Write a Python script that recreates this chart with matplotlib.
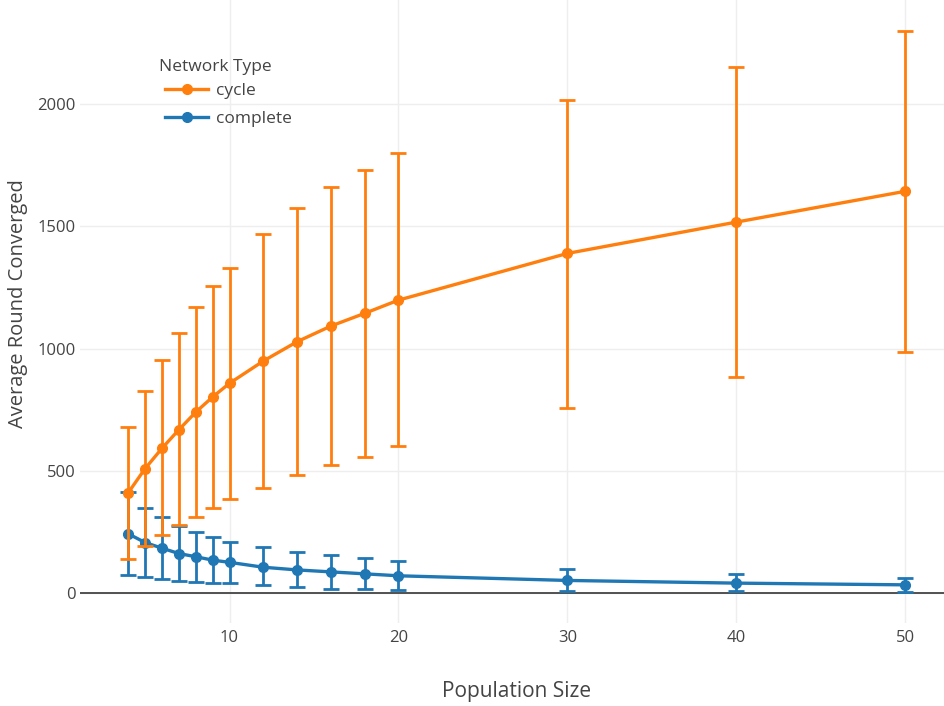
import matplotlib
matplotlib.use("Agg")
import matplotlib.pyplot as plt
from matplotlib.ticker import FixedLocator

plt.rcParams['font.family'] = ['Open Sans', 'DejaVu Sans']

population = [4, 5, 6, 7, 8, 9, 10, 12, 14, 16, 18, 20, 30, 40, 50]

cycle_mean = [410, 509, 592, 668, 740, 802, 858, 949, 1028, 1092, 1144, 1198, 1389, 1517, 1643]
cycle_upper = [681, 826, 953, 1063, 1171, 1254, 1328, 1468, 1573, 1660, 1729, 1801, 2018, 2150, 2297]
cycle_lower = [140, 194, 236, 277, 312, 349, 386, 431, 483, 524, 556, 601, 759, 885, 987]

complete_mean = [243, 207, 184, 162, 149, 135, 126, 106, 95, 87, 79, 71, 52, 41, 34]
complete_upper = [412, 350, 310, 273, 248, 230, 210, 188, 168, 154, 142, 132, 97, 78, 64]
complete_lower = [75, 65, 57, 49, 46, 40, 40, 33, 26, 19, 16, 12, 9, 7, 4]

x_ticks = [10, 20, 30, 40, 50]
y_ticks = [0, 500, 1000, 1500, 2000]

ORANGE = '#ff7f0e'
BLUE = '#1f77b4'
TXT = '#444444'

W, H = 945, 706
fig = plt.figure(figsize=(W / 100, H / 100), dpi=100)
ax = fig.add_axes([80 / W, (H - 623) / H, (945 - 80) / W, 623 / H])


def draw(mean, lo, hi, color, label, z):
    yerr = [[m - l for m, l in zip(mean, lo)], [h - m for m, h in zip(mean, hi)]]
    return ax.errorbar(population, mean, yerr=yerr, color=color, ecolor=color,
                       lw=2.4, elinewidth=2.0, capsize=5.5, capthick=2.0,
                       marker='o', markersize=7, label=label, zorder=z)


h_complete = draw(complete_mean, complete_lower, complete_upper, BLUE, 'complete', 3)
h_cycle = draw(cycle_mean, cycle_lower, cycle_upper, ORANGE, 'cycle', 4)

ax.set_xlim(1.15, 52.35)
ax.set_ylim(-122, 2425)
ax.xaxis.set_major_locator(FixedLocator(x_ticks))
ax.yaxis.set_major_locator(FixedLocator(y_ticks))
ax.grid(True, color='#eeeeee', lw=1, zorder=0)
ax.set_axisbelow(True)
ax.axhline(0, color='#444444', lw=1.3, zorder=2)
for s in ax.spines.values():
    s.set_visible(False)
ax.tick_params(length=0, labelsize=12, labelcolor=TXT, pad=5)
ax.tick_params(axis='y', pad=3)

fig.text(517 / W, 1 - 692 / H, 'Population Size', ha='center', va='center',
         fontsize=15, color=TXT)
fig.text(18 / W, 1 - 304 / H, 'Average Round Converged', ha='center', va='center',
         rotation=90, fontsize=14.5, color=TXT)

# legend title
fig.text(159 / W, 1 - 67 / H, 'Network Type', ha='left', va='center',
         fontsize=12.5, color=TXT)
leg = ax.legend(handles=[h_cycle[0], h_complete[0]], labels=['cycle', 'complete'],
                loc='upper left',
                bbox_to_anchor=((165 - 80) / 865, 1 - 83 / 623),
                frameon=False, fontsize=12.5,
                handlelength=2.5, handletextpad=0.45,
                labelspacing=0.66, borderaxespad=0, borderpad=0)
for t in leg.get_texts():
    t.set_color(TXT)

fig.savefig('out.png', dpi=100, facecolor='white')
